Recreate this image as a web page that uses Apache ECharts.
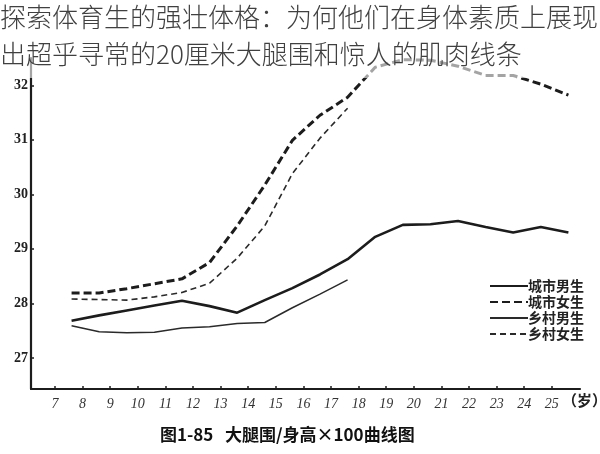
<!DOCTYPE html>
<html>
<head>
<meta charset="utf-8">
<script src="https://cdn.jsdelivr.net/npm/echarts@6/dist/echarts.min.js"></script>
<style>html,body{margin:0;padding:0;background:#fff}#c{width:600px;height:454px}</style>
</head>
<body>
<div id="c"></div>
<script>
// Ages (x positions where points sit on the drawn age axis)
var ages = [7.6, 8.6, 9.6, 10.6, 11.6, 12.6, 13.6, 14.6, 15.6, 16.6, 17.6, 18.6, 19.6, 20.6, 21.6, 22.6, 23.6, 24.6, 25.6];
var xTicks = [7, 8, 9, 10, 11, 12, 13, 14, 15, 16, 17, 18, 19, 20, 21, 22, 23, 24, 25];
var yTicks = [27, 28, 29, 30, 31, 32];

var cityMale   = [27.68, 27.78, 27.87, 27.96, 28.05, 27.95, 27.83, 28.06, 28.28, 28.53, 28.81, 29.22, 29.44, 29.45, 29.51, 29.40, 29.30, 29.40, 29.30];
var cityFemale = [28.19, 28.19, 28.27, 28.36, 28.45, 28.75, 29.42, 30.17, 30.99, 31.45, 31.78, 32.33, 32.47, 32.46, 32.35, 32.18, 32.18, 32.02, 31.82];
var ruralMale  = [27.59, 27.48, 27.46, 27.47, 27.55, 27.57, 27.63, 27.65, 27.92, 28.17, 28.43];
var ruralFemale= [28.08, 28.07, 28.06, 28.12, 28.20, 28.37, 28.83, 29.42, 30.38, 31.03, 31.58];

var names = ['城市男生', '城市女生', '乡村男生', '乡村女生'];
var titleLines = ['探索体育生的强壮体格：为何他们在身体素质上展现', '出超乎寻常的20厘米大腿围和惊人的肌肉线条'];
var caption = '图1-85   大腿围/身高×100曲线图';
var unitLabel = '（岁）';

function pts(vals) { return vals.map(function (v, i) { return [ages[i], v]; }); }

var chart = echarts.init(document.getElementById('c'), null, { renderer: 'canvas' });
var ink = '#1c1c1c';
chart.setOption({
  animation: false,
  backgroundColor: '#fff',
  grid: { left: 31, right: 20, top: 58, bottom: 65 },
  xAxis: {
    type: 'value', min: 6.13, max: 26.02,
    axisLine: { show: true, lineStyle: { color: ink, width: 2.2 } },
    axisTick: { show: true, inside: true, length: 3, customValues: xTicks, lineStyle: { color: ink, width: 1.5 } },
    axisLabel: { customValues: xTicks, margin: 8, color: '#333', fontSize: 14, fontStyle: 'italic', fontFamily: 'Liberation Serif' },
    splitLine: { show: false }
  },
  yAxis: {
    type: 'value', min: 26.43, max: 32.5,
    axisLine: { show: true, lineStyle: { color: ink, width: 2.2 } },
    axisTick: { show: true, inside: true, length: 3, customValues: yTicks, lineStyle: { color: ink, width: 1.5 } },
    axisLabel: { customValues: yTicks, margin: 3, color: '#222', fontSize: 14, fontWeight: 'bold', fontFamily: 'Liberation Serif' },
    splitLine: { show: false }
  },
  legend: {
    orient: 'vertical', left: 484, top: 274, itemGap: 2,
    itemWidth: 38, itemHeight: 14,
    itemStyle: { opacity: 0 },
    textStyle: { color: '#222', fontSize: 14, fontWeight: 'bold', fontFamily: 'Noto Sans CJK SC', padding: [0, 0, 0, -5] },
    data: names
  },
  series: [
    { name: names[0], type: 'line', data: pts(cityMale), symbol: 'none', clip: false,
      lineStyle: { color: ink, width: 2.6, type: 'solid' }, itemStyle: { color: ink } },
    { name: names[1], type: 'line', data: pts(cityFemale), symbol: 'none', clip: false,
      lineStyle: { color: ink, width: 3, type: [8, 4] }, itemStyle: { color: ink } },
    { name: names[2], type: 'line', data: pts(ruralMale), symbol: 'none', clip: false,
      lineStyle: { color: '#2a2a2a', width: 1.5, type: 'solid' }, itemStyle: { color: '#2a2a2a' } },
    { name: names[3], type: 'line', data: pts(ruralFemale), symbol: 'none', clip: false,
      lineStyle: { color: '#2a2a2a', width: 1.6, type: [6, 4] }, itemStyle: { color: '#2a2a2a' } }
  ],
  graphic: [
    { type: 'rect', z: 50, silent: true, shape: { x: 0, y: 0, width: 600, height: 78 }, style: { fill: 'rgba(255,255,255,0.6)' } },
    { type: 'text', z: 60, left: 0, top: 4, style: { text: titleLines[0], fill: '#404040', font: '300 26px "Noto Sans CJK SC"' } },
    { type: 'text', z: 60, left: 0, top: 41, style: { text: titleLines[1], fill: '#404040', font: '300 26px "Noto Sans CJK SC"' } },
    { type: 'text', z: 60, left: 160, top: 426, style: { text: caption, fill: '#111', font: 'bold 17px "Noto Sans CJK SC"' } },
    { type: 'text', z: 60, left: 562, top: 393, style: { text: unitLabel, fill: '#222', font: 'bold 15px "Noto Sans CJK SC"' } }
  ]
});
</script>
</body>
</html>
